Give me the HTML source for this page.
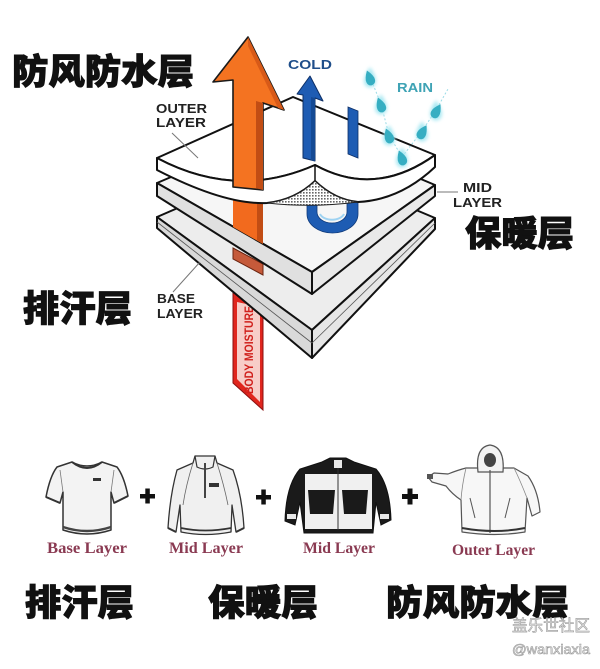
<!DOCTYPE html>
<html>
<head>
<meta charset="utf-8">
<style>
html,body{margin:0;padding:0;background:#fff;}
svg{display:block;}
.cn{font-family:"Liberation Sans","Noto Sans CJK SC","WenQuanYi Zen Hei",sans-serif;font-weight:900;fill:#111;stroke:#111;stroke-width:1;}
.en{font-family:"Liberation Sans",sans-serif;font-weight:bold;}
.sf{font-family:"Liberation Serif",serif;font-weight:bold;fill:#8a3a52;}
</style>
</head>
<body>
<svg width="600" height="669" viewBox="0 0 600 669" xmlns="http://www.w3.org/2000/svg">
<defs>
  <pattern id="dots" width="3" height="3" patternUnits="userSpaceOnUse">
    <rect width="3" height="3" fill="#fff"/>
    <rect width="1.6" height="1.6" fill="#666"/>
  </pattern>
  <filter id="glow" x="-1" y="-1" width="3" height="3"><feGaussianBlur stdDeviation="1.8"/></filter>
  <g id="drop">
    <path d="M0,-9 Q5,-2 4.5,2 A4.5,4.5 0 1 1 -4.5,2 Q-5,-2 0,-9 Z"/>
  </g>
</defs>
<rect width="600" height="669" fill="#fff"/>

<!-- Red body moisture band (behind base layer) -->
<polygon points="233,278 263,284 263,410 233,383" fill="#e0261e" stroke="#8a1010" stroke-width="1"/>
<polygon points="237,302 260,307 260,402 237,379" fill="#f7cdc8"/>
<text x="0" y="0" transform="translate(253,394) rotate(-90)" class="en" font-size="12" fill="#d0201c" textLength="88" lengthAdjust="spacingAndGlyphs">BODY MOISTURE</text>

<!-- Base layer -->
<polygon points="157,217 293,158 435,218 312,330" fill="#ededed" stroke="#111" stroke-width="2" stroke-linejoin="round"/>
<polygon points="157,217 312,330 312,358 157,228" fill="#d9d9d9" stroke="#111" stroke-width="2" stroke-linejoin="round"/>
<polygon points="312,330 435,218 435,229 312,358" fill="#e6e6e6" stroke="#111" stroke-width="2" stroke-linejoin="round"/>
<line x1="157" y1="222" x2="312" y2="343" stroke="#555" stroke-width="0.8"/>
<line x1="312" y1="343" x2="435" y2="223" stroke="#555" stroke-width="0.8"/>

<!-- brown patch on base top face -->
<polygon points="233,248 263,264 263,275 233,259" fill="#c55a3a" stroke="#6a2410" stroke-width="1"/>

<!-- Mid layer -->
<polygon points="157,183 293,125 435,185 312,272" fill="#f6f6f6" stroke="#111" stroke-width="2" stroke-linejoin="round"/>
<polygon points="157,183 312,272 312,294 157,196" fill="#e0e0e0" stroke="#111" stroke-width="2" stroke-linejoin="round"/>
<polygon points="312,272 435,185 435,196 312,294" fill="#e9e9e9" stroke="#111" stroke-width="2" stroke-linejoin="round"/>

<!-- orange in gap between outer and mid -->
<polygon points="233,196 263,200 263,244 233,227" fill="#f26a1e"/>
<polygon points="257,199 263,200 263,244 257,240" fill="#c24d14"/>

<!-- blue U under outer layer -->
<path d="M307,196 L307,214 A25.5,19 0 0 0 358,214 L358,196 L347,196 L347,212 A15,11 0 0 1 317,212 L317,196 Z" fill="#1e5cb3" stroke="#0f3a7a" stroke-width="0.8"/>
<path d="M320,214 A12.5,8 0 0 0 344,214" fill="none" stroke="#9fd3f2" stroke-width="2"/>

<!-- Outer layer top face -->
<path d="M157,158 L293,97 L435,155 Q375,198 315,165 Q236,200 157,158 Z" fill="#fff" stroke="#111" stroke-width="2" stroke-linejoin="round"/>
<!-- band -->
<path d="M157,158 Q236,200 315,165 Q375,198 435,155 L435,167 Q400,200 358,202 Q335,200 315,181 Q295,200 267,203 Q225,205 157,170 Z" fill="#fff" stroke="#111" stroke-width="2" stroke-linejoin="round"/>
<line x1="315" y1="165" x2="315" y2="181" stroke="#111" stroke-width="1.5"/>
<!-- dotted gap -->
<path d="M267,203 Q295,200 315,181 Q335,200 358,202 Q312,208 267,203 Z" fill="url(#dots)" stroke="#222" stroke-width="1"/>

<!-- Orange arrow -->
<polygon points="233,187 233,80 213,82 248,37 284,110 263,103 263,190" fill="#f47321" stroke="#1a1a1a" stroke-width="1.6" stroke-linejoin="round"/>
<polygon points="256,101 263,103 263,190 256,188" fill="#c24d14"/>
<polygon points="248,37 284,110 278,108 248,46" fill="#d85a18"/>

<!-- Blue arrow -->
<polygon points="303,158 303,95 297,94 310,76 323,101 315,98 315,161" fill="#1e5cb3" stroke="#0d2f66" stroke-width="1" stroke-linejoin="round"/>
<polygon points="311,97 315,98 315,161 311,160" fill="#154a94"/>
<polygon points="348,107 358,111 358,158 348,154" fill="#1e5cb3" stroke="#0d2f66" stroke-width="0.8"/>

<!-- Rain -->
<polyline points="370,77 381,104 389,135 402,157" fill="none" stroke="#9adbe6" stroke-width="1" stroke-dasharray="2,2"/>
<polyline points="402,157 422,131 436,110 448,89" fill="none" stroke="#9adbe6" stroke-width="1" stroke-dasharray="2,2"/>
<g fill="#a8e8f2" filter="url(#glow)">
  <use href="#drop" transform="translate(370,79) scale(1.3)"/>
  <use href="#drop" transform="translate(381,106) scale(1.3)"/>
  <use href="#drop" transform="translate(389,137) scale(1.3)"/>
  <use href="#drop" transform="translate(402,159) scale(1.3)"/>
  <use href="#drop" transform="translate(422,133) scale(1.3)"/>
  <use href="#drop" transform="translate(436,112) scale(1.3)"/>
</g>
<g fill="#36aec2">
  <use href="#drop" transform="translate(370,79) rotate(-20)"/>
  <use href="#drop" transform="translate(381,106) rotate(-20)"/>
  <use href="#drop" transform="translate(389,137) rotate(-20)"/>
  <use href="#drop" transform="translate(402,159) rotate(-20)"/>
  <use href="#drop" transform="translate(422,133) rotate(30)"/>
  <use href="#drop" transform="translate(436,112) rotate(30)"/>
</g>

<!-- Leader lines -->
<line x1="172" y1="133" x2="198" y2="158" stroke="#777" stroke-width="1"/>
<line x1="437" y1="192" x2="458" y2="192" stroke="#777" stroke-width="1"/>
<line x1="173" y1="292" x2="200" y2="262" stroke="#777" stroke-width="1"/>

<!-- Small labels -->
<text x="156" y="113" class="en" font-size="12.5" fill="#222" textLength="51" lengthAdjust="spacingAndGlyphs">OUTER</text>
<text x="156" y="127" class="en" font-size="12.5" fill="#222" textLength="50" lengthAdjust="spacingAndGlyphs">LAYER</text>
<text x="288" y="69" class="en" font-size="13" fill="#1f4e8a" textLength="44" lengthAdjust="spacingAndGlyphs">COLD</text>
<text x="397" y="92" class="en" font-size="13" fill="#3fa3b5" textLength="36" lengthAdjust="spacingAndGlyphs">RAIN</text>
<text x="463" y="192" class="en" font-size="13" fill="#222" textLength="29" lengthAdjust="spacingAndGlyphs">MID</text>
<text x="453" y="207" class="en" font-size="13" fill="#222" textLength="49" lengthAdjust="spacingAndGlyphs">LAYER</text>
<text x="157" y="303" class="en" font-size="13" fill="#222" textLength="38" lengthAdjust="spacingAndGlyphs">BASE</text>
<text x="157" y="318" class="en" font-size="13" fill="#222" textLength="46" lengthAdjust="spacingAndGlyphs">LAYER</text>

<!-- Big Chinese labels (top) -->
<text x="12" y="84" class="cn" font-size="35" textLength="182" lengthAdjust="spacingAndGlyphs">防风防水层</text>
<text x="465" y="246" class="cn" font-size="35" textLength="109" lengthAdjust="spacingAndGlyphs">保暖层</text>
<text x="23" y="321" class="cn" font-size="36" textLength="109" lengthAdjust="spacingAndGlyphs">排汗层</text>

<!-- T-shirt -->
<path d="M72,462 Q87,470 102,462 L117,467 Q124,476 128,496 L114,503 L111,492 L111,530 Q87,538 63,530 L63,492 L60,503 L46,497 Q50,476 57,467 Z" fill="#f3f3f3" stroke="#333" stroke-width="1.5" stroke-linejoin="round"/>
<path d="M72,462 Q87,474 102,462" fill="none" stroke="#333" stroke-width="2"/>
<path d="M63,527 Q87,535 111,527" fill="none" stroke="#444" stroke-width="2.5"/>
<line x1="46" y1="497" x2="60" y2="503" stroke="#333" stroke-width="2"/>
<line x1="114" y1="503" x2="128" y2="496" stroke="#333" stroke-width="2"/>
<line x1="63" y1="492" x2="60" y2="470" stroke="#777" stroke-width="0.8"/>
<line x1="111" y1="492" x2="114" y2="470" stroke="#777" stroke-width="0.8"/>
<rect x="93" y="478" width="8" height="3" fill="#333"/>

<!-- plus 1 -->
<rect x="140" y="494" width="15" height="4.5" fill="#111"/>
<rect x="145.3" y="488.5" width="4.5" height="15" fill="#111"/>

<!-- Fleece -->
<path d="M193,463 L195,456 L215,456 L217,463 L233,470 Q242,495 244,528 L236,532 L232,505 L231,532 Q205,537 181,532 L180,505 L176,532 L168,528 Q170,495 177,470 Z" fill="#f0f0f0" stroke="#333" stroke-width="1.3" stroke-linejoin="round"/>
<path d="M195,456 L197,467 Q205,471 213,467 L215,456" fill="none" stroke="#333" stroke-width="1.2"/>
<line x1="205" y1="463" x2="205" y2="498" stroke="#444" stroke-width="2"/>
<path d="M193,463 Q186,485 183,505" fill="none" stroke="#666" stroke-width="0.8"/>
<path d="M217,463 Q224,485 228,505" fill="none" stroke="#666" stroke-width="0.8"/>
<rect x="209" y="483" width="10" height="4" fill="#333"/>
<path d="M181,528 Q205,533 231,528" fill="none" stroke="#333" stroke-width="1.8"/>
<line x1="168" y1="528" x2="176" y2="532" stroke="#333" stroke-width="2"/>
<line x1="236" y1="532" x2="244" y2="528" stroke="#333" stroke-width="2"/>

<!-- plus 2 -->
<rect x="256" y="495" width="15" height="4.5" fill="#111"/>
<rect x="261.3" y="489.5" width="4.5" height="15" fill="#111"/>

<!-- Black jacket -->
<path d="M322,462 L330,458 L346,458 L354,462 L376,469 Q390,485 391,520 L381,525 L376,502 L373,533 L304,533 L300,502 L295,525 L285,521 Q286,485 300,469 Z" fill="#1a1a1a" stroke="#111" stroke-width="1"/>
<polygon points="305,474 372,474 372,529 305,529" fill="#f0f0f0"/>
<polygon points="308,490 335,490 333,514 310,514" fill="#1a1a1a"/>
<polygon points="342,490 368,490 366,514 344,514" fill="#1a1a1a"/>
<line x1="338" y1="466" x2="338" y2="530" stroke="#333" stroke-width="1"/>
<rect x="334" y="460" width="8" height="8" fill="#e8e8e8"/>
<rect x="287" y="514" width="9" height="5" fill="#e8e8e8"/>
<rect x="380" y="514" width="9" height="5" fill="#e8e8e8"/>

<!-- plus 3 -->
<rect x="402" y="494" width="16" height="5" fill="#111"/>
<rect x="407.5" y="488.5" width="5" height="16" fill="#111"/>

<!-- Outer jacket -->
<path d="M466,468 L514,468 L528,476 Q538,490 540,512 L532,516 L527,498 L525,532 Q495,537 462,532 L461,500 Q452,494 446,486 L432,482 L428,477 L434,473 L448,474 Q458,470 466,468 Z" fill="#f7f7f7" stroke="#555" stroke-width="1.2" stroke-linejoin="round"/>
<path d="M478,472 Q475,447 490,445 Q505,447 503,472 Z" fill="#f3f3f3" stroke="#555" stroke-width="1.2"/>
<ellipse cx="490" cy="460" rx="6" ry="7" fill="#444"/>
<line x1="490" y1="470" x2="490" y2="533" stroke="#555" stroke-width="1.2"/>
<path d="M470,498 L475,518 M510,498 L505,518" fill="none" stroke="#555" stroke-width="1"/>
<path d="M462,528 Q495,534 525,528" fill="none" stroke="#333" stroke-width="2"/>
<path d="M466,468 Q462,485 461,500 M514,468 Q520,480 527,498" fill="none" stroke="#888" stroke-width="0.8"/>
<rect x="427" y="474" width="6" height="5" fill="#555"/>

<!-- Bottom English labels -->
<text x="47" y="553" class="sf" font-size="16" textLength="80" lengthAdjust="spacingAndGlyphs">Base Layer</text>
<text x="169" y="553" class="sf" font-size="16" textLength="74" lengthAdjust="spacingAndGlyphs">Mid Layer</text>
<text x="303" y="553" class="sf" font-size="16" textLength="72" lengthAdjust="spacingAndGlyphs">Mid Layer</text>
<text x="452" y="555" class="sf" font-size="16" textLength="83" lengthAdjust="spacingAndGlyphs">Outer Layer</text>

<!-- Bottom Chinese labels -->
<text x="25" y="615" class="cn" font-size="36" textLength="109" lengthAdjust="spacingAndGlyphs">排汗层</text>
<text x="208" y="615" class="cn" font-size="36" textLength="110" lengthAdjust="spacingAndGlyphs">保暖层</text>
<text x="386" y="615" class="cn" font-size="35" textLength="183" lengthAdjust="spacingAndGlyphs">防风防水层</text>

<!-- Watermark -->
<text x="512" y="631" font-family="Liberation Sans, Noto Sans CJK SC, sans-serif" font-size="16" fill="#ececec" stroke="#999" stroke-width="0.6" textLength="78" lengthAdjust="spacingAndGlyphs">盖乐世社区</text>
<text x="512" y="654" font-family="Liberation Sans, sans-serif" font-size="14" fill="#ececec" stroke="#999" stroke-width="0.6" textLength="78" lengthAdjust="spacingAndGlyphs">@wanxiaxia</text>
</svg>
</body>
</html>
